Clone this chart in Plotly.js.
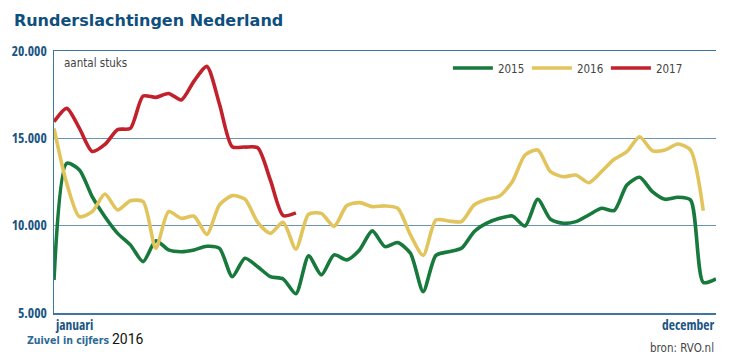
<!DOCTYPE html>
<html>
<head>
<meta charset="utf-8">
<script src="https://cdn.plot.ly/plotly-3.0.1.min.js"></script>
<style>
html,body{margin:0;padding:0;background:#fff;}
#chart{width:732px;height:363px;}
text[style*="Open Sans"] { font-stretch: 75%; }
</style>
</head>
<body>
<div id="chart"></div>
<script>
const weeks2015 = Array.from({length: 53}, (_, i) => i + 1);
const weeks2016 = Array.from({length: 52}, (_, i) => i + 1);
const weeks2017 = Array.from({length: 20}, (_, i) => i + 1);

const values2015 = [6890, 13570, 13190, 11660, 10515, 9560, 8900, 7940, 9140, 8610,
  8510, 8610, 8820, 8700, 7080, 8135, 7650, 7080, 6950, 6100,
  8270, 7180, 8330, 8040, 8610, 9700, 8800, 9030, 8420, 6225,
  8300, 8510, 8700, 9655, 10140, 10420, 10555, 9980, 11510, 10365,
  10140, 10230, 10610, 11000, 10860, 12330, 12770, 11950, 11510, 11625,
  11470, 6750, 6950];
const values2016 = [15570, 12420, 10515, 10800, 11810, 10900, 11430, 11370, 8710, 10800,
  10420, 10540, 9500, 11185, 11720, 11520, 10190, 9560, 10200, 8660,
  10650, 10700, 9960, 11150, 11320, 11090, 11130, 10995, 9470, 8300,
  10325, 10270, 10230, 11185, 11510, 11700, 12520, 14045, 14330, 13090,
  12800, 12900, 12460, 13090, 13800, 14235, 15090, 14290, 14330, 14675,
  14330, 10860];
const values2017 = [15950, 16716, 15570, 14250, 14650, 15500, 15570, 17420, 17345, 17570,
  17200, 18280, 19120, 16950, 14520, 14500, 14460, 12600, 10580, 10730];

const seriesNames = ['2015', '2016', '2017'];
const yTickVals = [5000, 10000, 15000, 20000];
const yTickText = ['5.000', '10.000', '15.000', '20.000'];
const xLabels = ['januari', 'december'];

const colors = ['#17793b', '#e2c45c', '#c1212b'];
const blue = '#1b5582';
const lineW = 3.6;
const cond = 'Open Sans, sans-serif';

const traces = [
  {x: weeks2015, y: values2015, name: seriesNames[0]},
  {x: weeks2016, y: values2016, name: seriesNames[1]},
  {x: weeks2017, y: values2017, name: seriesNames[2]}
].map((t, i) => Object.assign(t, {
  type: 'scatter', mode: 'lines',
  line: {color: colors[i], width: lineW, shape: 'spline', smoothing: 0.7},
  hoverinfo: 'skip'
}));

const layout = {
  width: 732, height: 363,
  margin: {l: 54, r: 16, t: 51, b: 50, autoexpand: false},
  paper_bgcolor: '#ffffff', plot_bgcolor: '#ffffff',
  showlegend: true,
  legend: {
    orientation: 'h', x: 0.595, xanchor: 'left', y: 0.935, yanchor: 'middle',
    font: {family: 'DejaVu Sans Condensed, sans-serif', size: 11.5, color: '#444'},
    entrywidth: 24, entrywidthmode: 'pixels', itemwidth: 40,
    bgcolor: 'rgba(0,0,0,0)', itemclick: false
  },
  xaxis: {
    range: [1, 53], showgrid: false, zeroline: false,
    showline: true, mirror: true, linecolor: '#3e76a0', linewidth: 1.5,
    showticklabels: false, ticks: ''
  },
  yaxis: {
    range: [5000, 20000], tickvals: yTickVals, ticktext: yTickText,
    showgrid: true, gridcolor: '#6a93b4', gridwidth: 1.2, zeroline: false,
    showline: true, linecolor: '#3e76a0', linewidth: 1.5, ticks: '',
    tickfont: {family: cond, size: 13.5, color: blue, weight: 'bold'},
    ticklabelstandoff: 3
  },
  title: {
    text: 'Runderslachtingen Nederland',
    x: 0.019, xref: 'container', xanchor: 'left', y: 0.945, yanchor: 'middle',
    font: {family: 'DejaVu Sans, sans-serif', size: 16, color: '#0f4f7d', weight: 'bold'}
  },
  annotations: [
    {xref: 'x', yref: 'paper', x: 1, y: -0.005, xanchor: 'left', yanchor: 'top', showarrow: false,
     text: xLabels[0], xshift: -1,
     font: {family: cond, size: 13.5, color: blue, weight: 'bold'}},
    {xref: 'x', yref: 'paper', x: 53, y: -0.005, xanchor: 'right', yanchor: 'top', showarrow: false,
     text: xLabels[1],
     font: {family: cond, size: 13.5, color: blue, weight: 'bold'}},
    {xref: 'paper', yref: 'paper', x: 0.012, y: 0.99, xanchor: 'left', yanchor: 'top', showarrow: false,
     text: 'aantal stuks',
     font: {family: 'DejaVu Sans Condensed, sans-serif', size: 11.5, color: '#444'}},
    {xref: 'paper', yref: 'paper', x: 1, y: -0.1, xanchor: 'right', yanchor: 'top', showarrow: false,
     text: 'bron: RVO.nl',
     font: {family: 'DejaVu Sans Condensed, sans-serif', size: 11.5, color: '#444'}},
    {xref: 'paper', yref: 'paper', x: -0.0438, y: -0.072, xanchor: 'left', yanchor: 'top', showarrow: false,
     text: 'Zuivel in cijfers',
     font: {family: 'DejaVu Sans Condensed, sans-serif', size: 10.5, color: '#2b6a94', weight: 'bold'}},
    {xref: 'paper', yref: 'paper', x: 0.0846, y: -0.062, xanchor: 'left', yanchor: 'top', showarrow: false,
     text: '2016',
     font: {family: 'Roboto, sans-serif', size: 14, color: '#111'}}
  ]
};

Plotly.newPlot('chart', traces, layout, {staticPlot: true, displayModeBar: false});
</script>
</body>
</html>
